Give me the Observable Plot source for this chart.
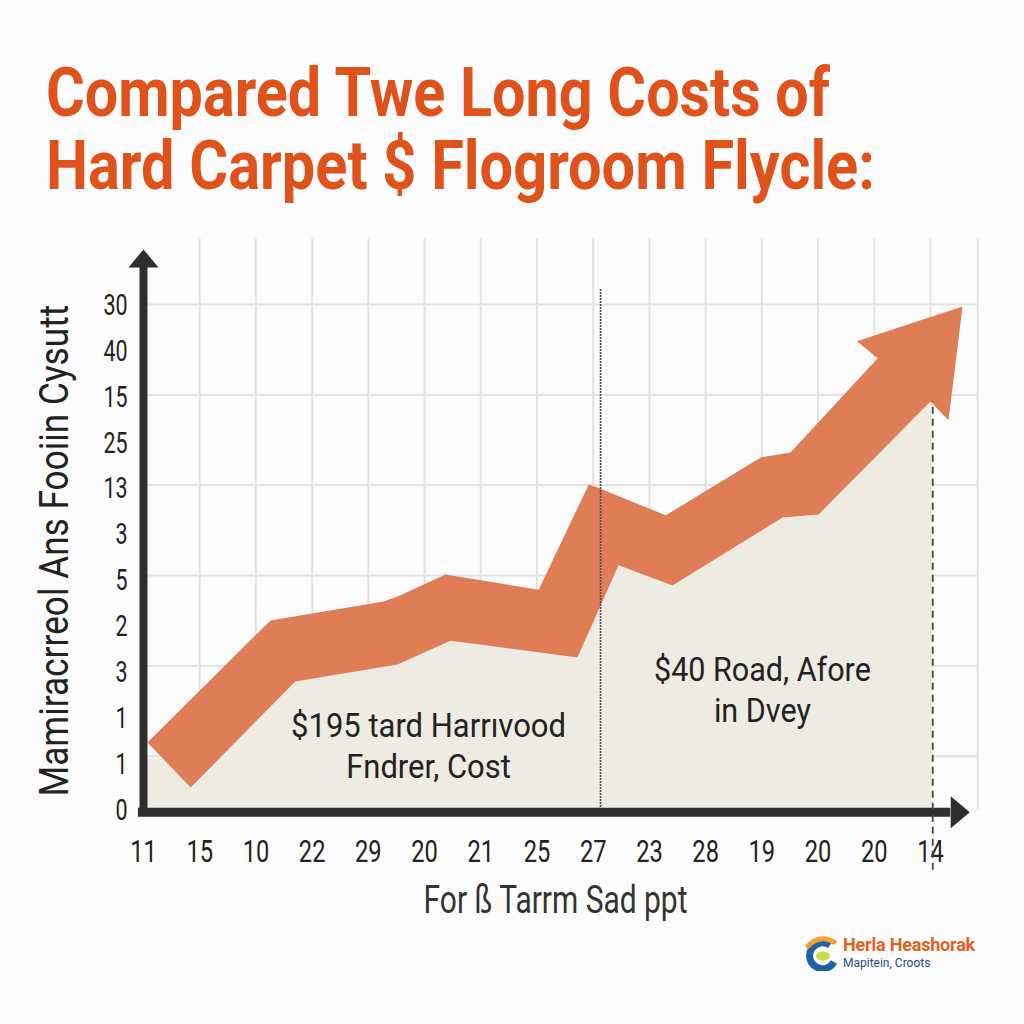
<!DOCTYPE html>
<html><head><meta charset="utf-8">
<script src="https://cdn.jsdelivr.net/npm/d3@7"></script>
<script src="https://cdn.jsdelivr.net/npm/@observablehq/plot@0.6"></script>
<style>
html,body{margin:0;padding:0}
body{background:#fcfcfc;width:1024px;height:1024px;overflow:hidden;position:relative;font-family:Roboto,sans-serif}
#title{position:absolute;left:46px;top:57px;color:#e0521c;font-weight:700;font-size:68px;line-height:73px}
#title span{display:inline-block;white-space:nowrap;transform-origin:0 50%}
#chart{position:absolute;left:0;top:230px}
#logo{position:absolute;left:801px;top:933px;width:200px;height:40px}
#logo svg{position:absolute;left:0;top:2px}
#logo .l1{position:absolute;left:42px;top:1px;color:#e0621f;font-weight:700;font-size:18px;white-space:nowrap;letter-spacing:-0.2px}
#logo .l2{position:absolute;left:42px;top:23px;color:#1f4f8c;font-size:12px;white-space:nowrap}
</style></head>
<body>
<div id="title"></div>
<div id="chart"></div>
<div id="logo">
  <svg width="40" height="36" viewBox="0 0 40 36">
    <path d="M29 10 A13 13 0 1 0 33 27" stroke="#1f5fa8" stroke-width="7" fill="none"/>
    <path d="M7 11 Q19 -1 33 7" stroke="#f2a030" stroke-width="5" fill="none" stroke-linecap="round"/>
    <ellipse cx="22" cy="21" rx="7" ry="4.5" fill="#c8d84a"/>
  </svg>
  <div class="l1">Herla Heashorak</div>
  <div class="l2">Mapitein, Croots</div>
</div>
<script>
// ---------- text ----------
const titleLines = ["Compared Twe Long Costs of", "Hard Carpet $ Flogroom Flycle:"];
const yTitle = "Mamiracrreol Ans Fooiin Cysutt";
const xTitle = "For ß Tarrm Sad ppt";
const xTickLabels = ["11","15","10","22","29","20","21","25","27","23","28","19","20","20","14"];
const yTickLabels = ["0","1","1","3","2","5","3","13","25","15","40","30"]; // bottom -> top
const annotationTexts = ["$195 tard Harrıvood\nFndrer, Cost", "$40 Road, Afore\nin Dvey"];
const annotationX = [5.07, 11.01];
const annotationY = [1.43, 2.65];

// ---------- data (x = tick index, y = tick index) ----------
// cost band outline: upper edge -> arrow head -> lower edge (back)
const bandX = [0.07, 2.26, 4.27, 4.52, 5.37, 7.03, 7.92, 8.13, 9.29, 10.98, 11.51, 13.06, 12.69, 14.57, 14.32, 14.0, 12.01, 11.37, 9.41, 8.45, 7.72, 5.46, 4.52, 2.70, 0.84];
const bandY = [1.48, 4.14, 4.55, 4.66, 5.14, 4.81, 7.10, 7.01, 6.43, 7.69, 7.80, 9.85, 10.22, 10.98, 8.50, 8.91, 6.45, 6.38, 4.90, 5.34, 3.33, 3.70, 3.18, 2.81, 0.50];
// shaded area under the band
const floorX = [0, 0, 0.35, 0.84, 2.70, 4.52, 5.46, 7.72, 8.45, 9.41, 11.37, 12.01, 14.0, 14.04, 14.04];
const floorY = [0, 1.13, 1.13, 0.50, 2.81, 3.18, 3.70, 3.33, 5.34, 4.90, 6.38, 6.45, 8.91, 8.91, 0];
// grid & reference lines
const gridYValues = [1.18, 3.15, 5.12, 7.09, 9.05, 11.02];
const gridXValues = [1,2,3,4,5,6,7,8,9,10,11,12,13,14,14.84];
const gridRight = 14.84, gridTop = 12.45;
const dottedLineX = 8.13, dottedLineTop = 11.37;
const dashedLineX = 14.04, dashedLineTop = 8.91, dashedLineBottom = -1.3;
const xAxisY = -0.04, xAxisStart = -0.09, xAxisEnd = 14.36, yAxisStart = -0.12, yAxisEnd = 11.83;
const xTitlePos = [7.33, -1.96], yTitlePos = [0, 5.66];

// ---------- title ----------
const titleDiv = document.getElementById("title");
const titleWidths = [784, 829];
titleLines.forEach((t) => {
  const s = document.createElement("span"); s.textContent = t; titleDiv.appendChild(s);
  titleDiv.appendChild(document.createElement("br"));
});

const band = bandX.map((x, i) => ({x, y: bandY[i]}));
const floor = floorX.map((x, i) => ({x, y: floorY[i]}));
const annotations = annotationTexts.map((text, i) => ({text, x: annotationX[i], y: annotationY[i]}));

const axisColor = "#2e2e2e";
const arrowHead = {draw(ctx, l, r) { ctx.moveTo(-r, 0); ctx.lineTo(0, -l); ctx.lineTo(r, 0); ctx.closePath(); }};

const chart = Plot.plot({
  width: 1024, height: 700,
  marginLeft: 143, marginRight: 94, marginTop: 75, marginBottom: 120,
  x: {domain: [0, 14], axis: null},
  y: {domain: [0, 11], axis: null},
  style: {fontFamily: "Roboto, sans-serif", background: "transparent", overflow: "visible", color: "#222"},
  marks: [
    Plot.ruleY(gridYValues, {x1: 0, x2: gridRight, stroke: "#e2e2e2", strokeWidth: 2}),
    Plot.ruleX(gridXValues, {y1: 0, y2: gridTop, stroke: "#e2e2e2", strokeWidth: 2}),
    Plot.line(floor, {x: "x", y: "y", fill: "#eeebe3", stroke: "none"}),
    Plot.line(band, {x: "x", y: "y", fill: "#de7d56", stroke: "none"}),
    Plot.ruleX([dottedLineX], {y1: 0, y2: dottedLineTop, stroke: "#4a4a4a", strokeWidth: 1.6, strokeDasharray: "2,1"}),
    Plot.text(annotations, {x: "x", y: "y", text: "text", fontSize: 33, lineHeight: 1.24, fill: "#222"}),
    Plot.ruleY([xAxisY], {x1: xAxisStart, x2: xAxisEnd, stroke: axisColor, strokeWidth: 9}),
    Plot.ruleX([0], {y1: yAxisStart, y2: yAxisEnd, stroke: axisColor, strokeWidth: 8}),
    Plot.vector([{x: xAxisEnd, y: xAxisY}], {x: "x", y: "y", rotate: 90, length: 19, r: 16, shape: arrowHead, anchor: "start", fill: axisColor, stroke: "none"}),
    Plot.vector([{x: 0, y: yAxisEnd}], {x: "x", y: "y", rotate: 0, length: 18, r: 15, shape: arrowHead, anchor: "start", fill: axisColor, stroke: "none"}),
    Plot.axisX({ticks: d3.range(xTickLabels.length), tickFormat: i => xTickLabels[i], tickSize: 0, tickPadding: 29, fontSize: 32, fill: "#222", label: null}),
    Plot.axisY({ticks: d3.range(yTickLabels.length), tickFormat: i => yTickLabels[i], tickSize: 0, tickPadding: 16, fontSize: 29, fill: "#222", label: null}),
    Plot.text([yTitle], {x: () => yTitlePos[0], y: () => yTitlePos[1], text: d => d, dx: -88, rotate: -90, fontSize: 40, fill: "#222"}),
    Plot.text([xTitle], {x: () => xTitlePos[0], y: () => xTitlePos[1], text: d => d, fontSize: 38, fill: "#333"}),
    Plot.ruleX([dashedLineX], {y1: dashedLineBottom, y2: dashedLineTop, stroke: "#444", strokeWidth: 1.8, strokeDasharray: "7,5"})
  ]
});
document.getElementById("chart").appendChild(chart);

// condense text (narrow typeface look); only the x direction is scaled
function squeeze(el, s) {
  const t = el.getAttribute("transform") || "";
  const x = el.getAttribute("x");
  if (x != null && !isNaN(+x)) el.setAttribute("x", +x / s);
  el.setAttribute("transform", (t + ` scale(${s},1)`).trim());
}
function fit(el, target) { const w = el.getBBox().width; if (w > 0) squeeze(el, target / w); }
chart.querySelectorAll("text").forEach(el => {
  const c = el.textContent;
  if (c === yTitle) fit(el, 492);
  else if (c === xTitle) fit(el, 264);
  else if (c.startsWith("$195")) fit(el, 275);
  else if (c.startsWith("$40")) fit(el, 217);
  else squeeze(el, 0.74);
});
titleDiv.querySelectorAll("span").forEach((s, i) => {
  const w = s.getBoundingClientRect().width;
  s.style.transform = `scaleX(${titleWidths[i] / w})`;
});
</script>
</body></html>
